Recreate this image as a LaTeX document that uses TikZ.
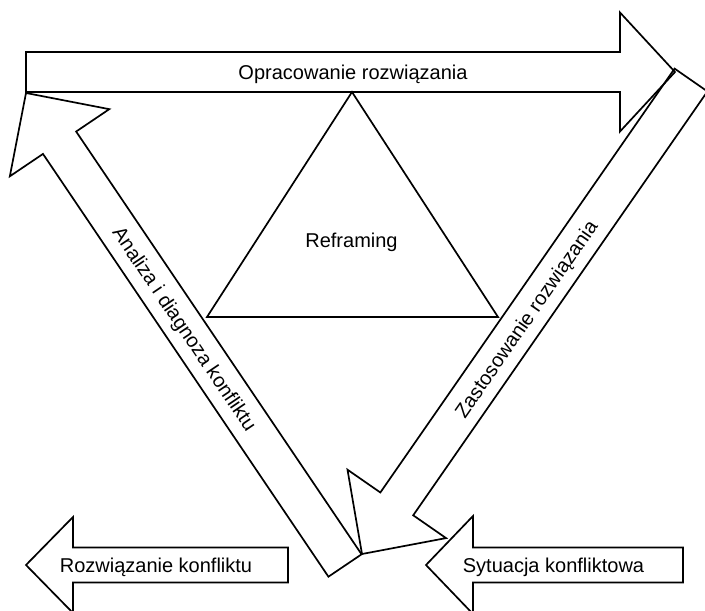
\documentclass[tikz,border=0pt]{standalone}
\usepackage{fontspec}
\setmainfont{Liberation Sans}
\usetikzlibrary{calc}
\tikzset{
  arrowshape/.style={draw=black, line width=1.7pt, line join=miter},
  tri/.style={draw=black, line width=1.7pt},
  lbl/.style={font=\fontsize{20}{24}\selectfont, inner sep=0pt, text height=14.3pt, text depth=0pt, anchor=center}
}
% #1 name, #2 tail centre, #3 tip, #4 shaft half width, #5 head half width, #6 head length
\newcommand\myarrow[6]{%
  \coordinate (#1-b) at ($(#3)!#6!(#2)$);
  \draw[arrowshape] ($(#2)!#4!90:(#3)$) -- ($(#1-b)!#4!90:(#3)$) -- ($(#1-b)!#5!90:(#3)$) -- (#3)
    -- ($(#1-b)!#5!-90:(#3)$) -- ($(#1-b)!#4!-90:(#3)$) -- ($(#2)!#4!-90:(#3)$) -- cycle;
}
\begin{document}
\begin{tikzpicture}[x=1pt, y=-1pt]
  \fill[white] (0,0) rectangle (705,611);
  \useasboundingbox (0,0) rectangle (705,611);

  % arrow end points
  \coordinate (top-t) at (26,72);    \coordinate (top-p) at (675,72);
  \coordinate (left-t) at (345,565.5); \coordinate (left-p) at (26,93);
  \coordinate (right-t) at (691,80); \coordinate (right-p) at (362,554);
  \coordinate (bl-t) at (288,565);   \coordinate (bl-p) at (26,565);
  \coordinate (br-t) at (683,565);   \coordinate (br-p) at (426,565);

  \myarrow{top}{top-t}{top-p}{20pt}{59.5pt}{55pt}
  \myarrow{left}{left-t}{left-p}{20pt}{60pt}{60pt}
  \myarrow{right}{right-t}{right-p}{20pt}{60pt}{61pt}
  \myarrow{bl}{bl-t}{bl-p}{17.5pt}{48pt}{47pt}
  \myarrow{br}{br-t}{br-p}{17.5pt}{49pt}{47pt}

  % central triangle
  \coordinate (apex) at (352,92);
  \coordinate (bleft) at (207,317);
  \coordinate (bright) at (498,317);
  \draw[tri] (apex) -- (bleft) -- (bright) -- cycle;

  % labels
  \node[lbl] (ltop) at (353,72) {Opracowanie rozwiązania};
  \node[lbl] (lref) at (351.5,240) {Reframing};
  \node[lbl, rotate=-56] (lleft) at (185.2,328.8) {Analiza i diagnoza konfliktu};
  \node[lbl, rotate=55.3] (lright) at (525.9,318.8) {Zastosowanie rozwiązania};
  \node[lbl] (lbl) at (156,565.5) {Rozwiązanie konfliktu};
  \node[lbl] (lbr) at (553.5,565) {Sytuacja konfliktowa};
\end{tikzpicture}
\end{document}
